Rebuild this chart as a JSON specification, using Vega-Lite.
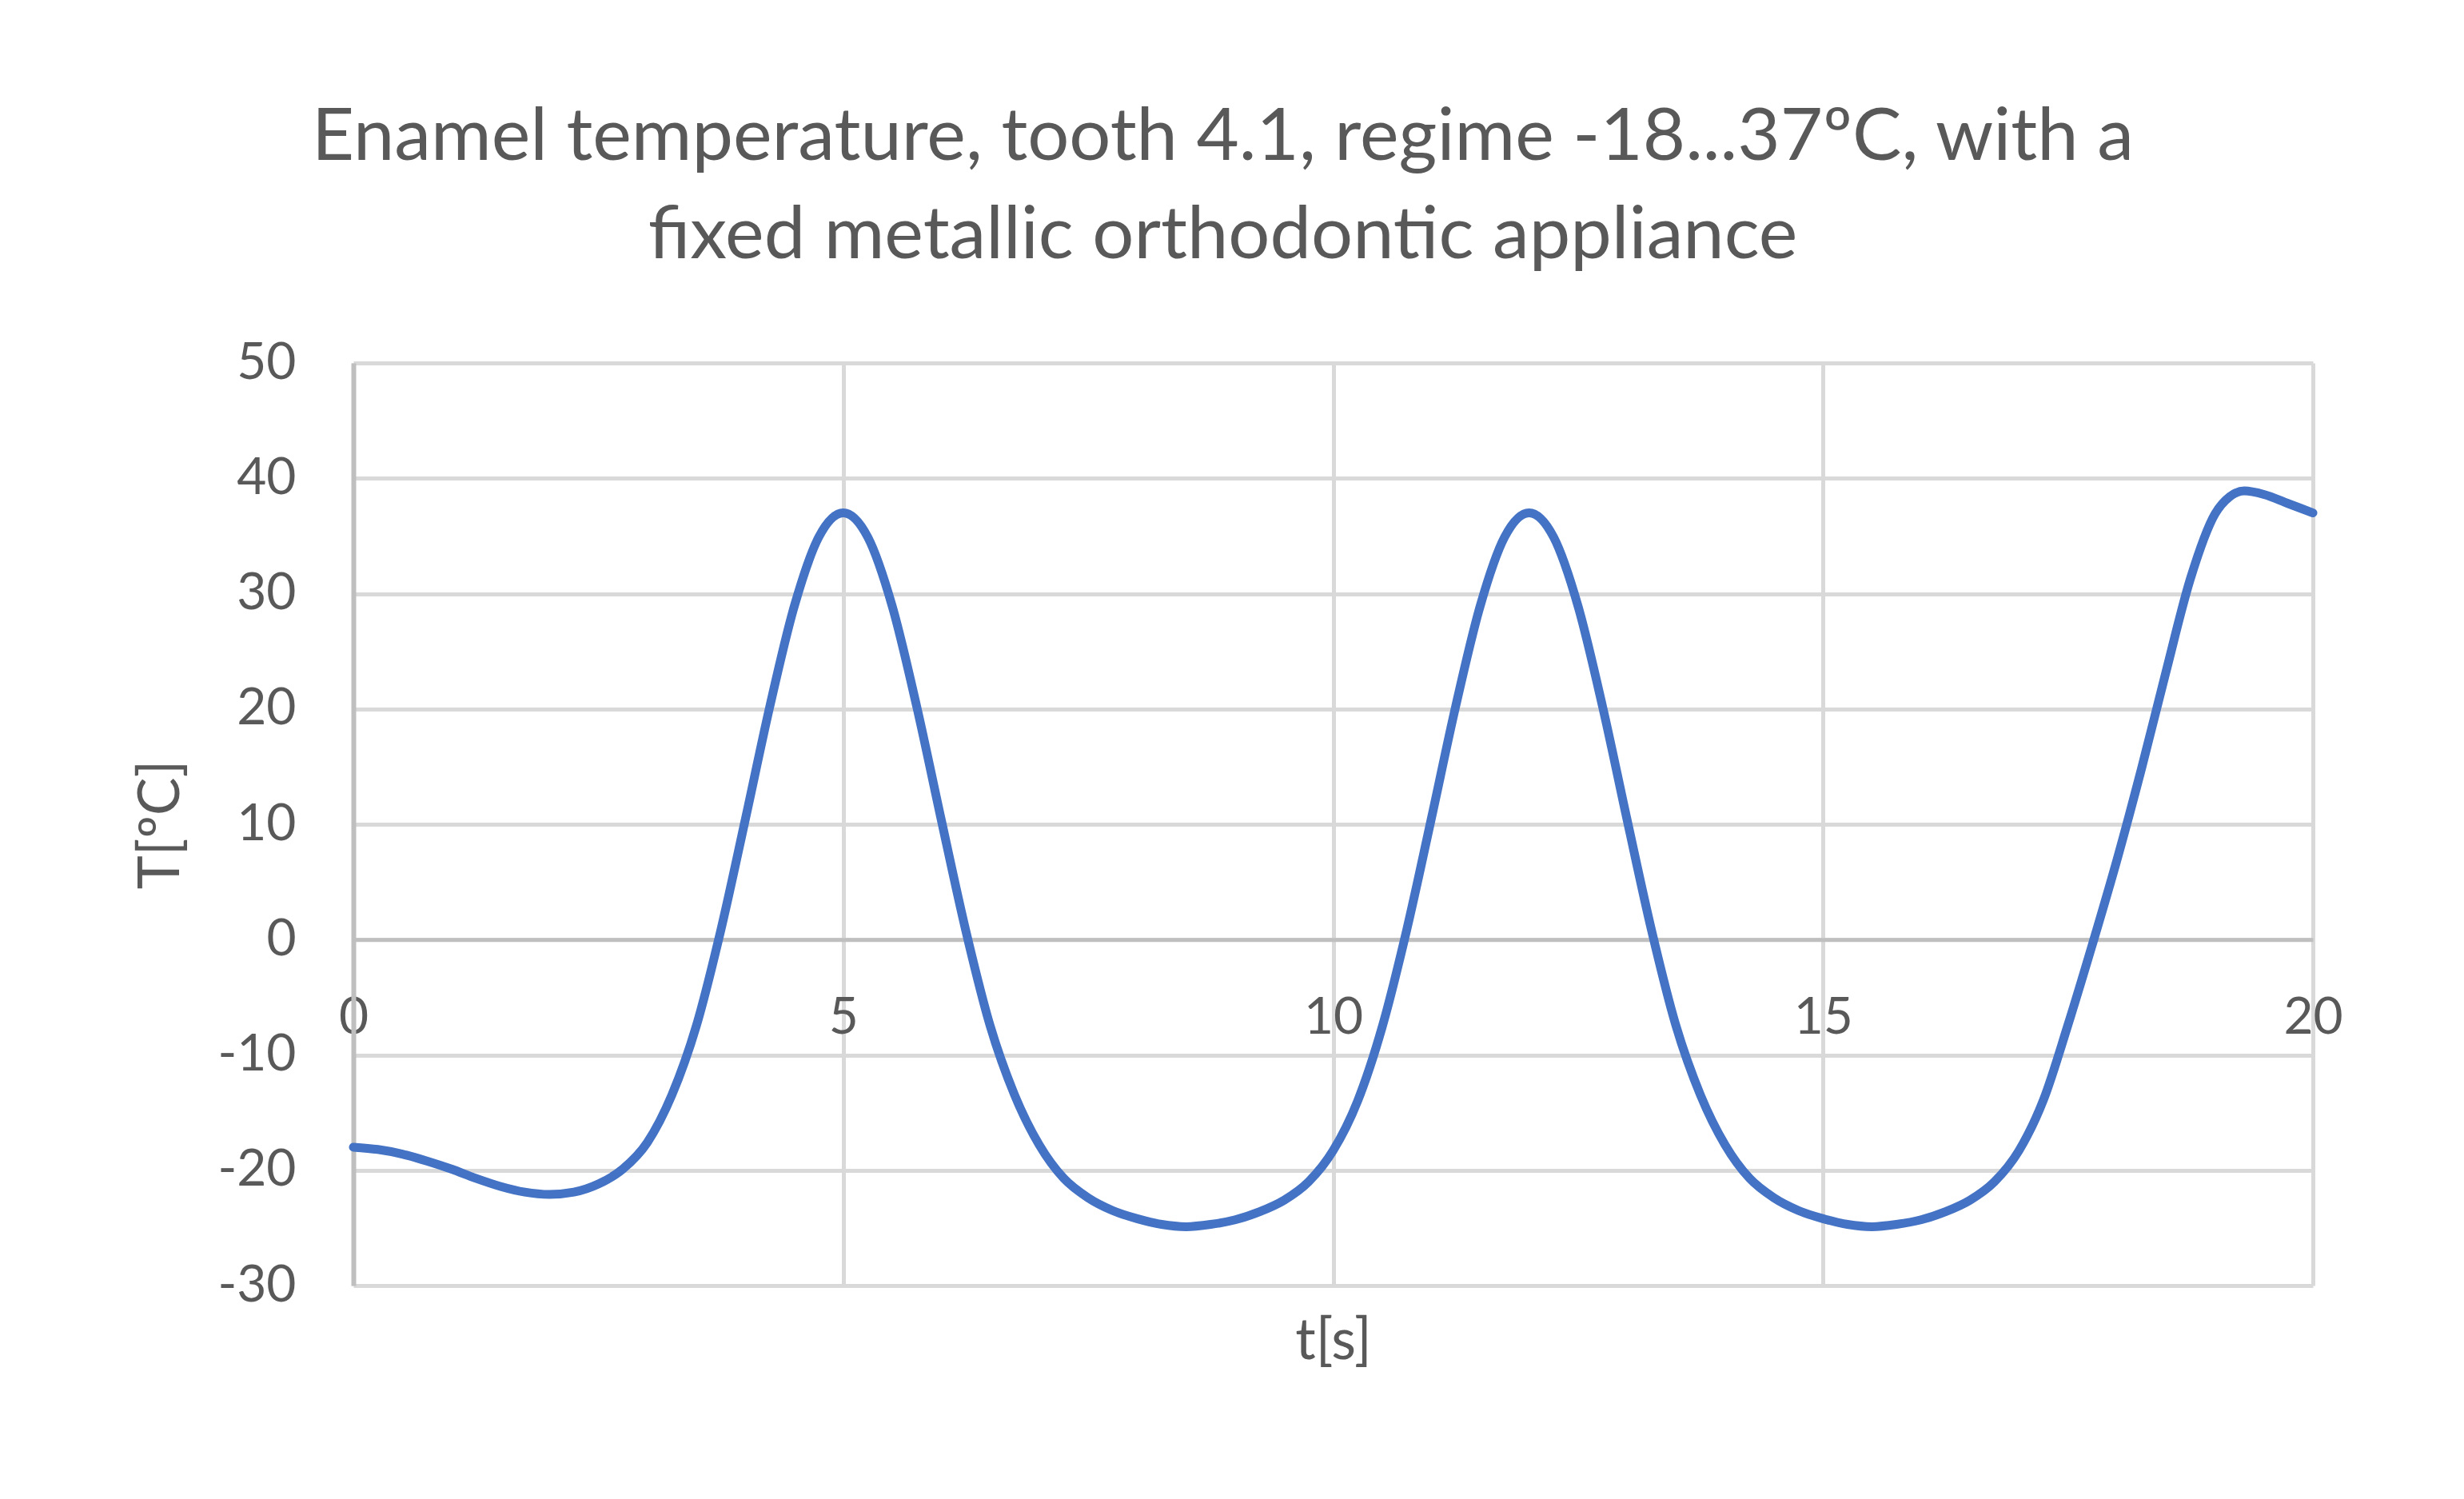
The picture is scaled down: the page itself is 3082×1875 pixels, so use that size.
{
  "$schema": "https://vega.github.io/schema/vega-lite/v6.json",
  "width": 2451,
  "height": 1154,
  "autosize": {"type": "none"},
  "padding": {"left": 442, "top": 454, "right": 189, "bottom": 267},
  "background": "white",
  "title": {
    "text": ["Enamel temperature, tooth 4.1, regime -18...37ºC, with a", "fixed metallic orthodontic appliance"],
    "anchor": "middle",
    "frame": "group",
    "dx": -138,
    "font": "Lato",
    "fontSize": 92,
    "fontWeight": "normal",
    "color": "#595959",
    "lineHeight": 123,
    "offset": 80
  },
  "config": {
    "view": {"stroke": null},
    "axis": {"labelFont": "Lato", "titleFont": "Lato", "labelColor": "#595959", "titleColor": "#595959", "titleFontWeight": "normal"}
  },
  "data": {
    "values": [
      {"t": 0, "T": -18.0}, {"t": 0.25, "T": -18.2}, {"t": 0.5, "T": -18.6}, {"t": 0.75, "T": -19.2},
      {"t": 1.0, "T": -19.9}, {"t": 1.25, "T": -20.7}, {"t": 1.5, "T": -21.4}, {"t": 1.75, "T": -21.9},
      {"t": 2.0, "T": -22.1}, {"t": 2.25, "T": -21.9}, {"t": 2.5, "T": -21.2}, {"t": 2.75, "T": -19.9},
      {"t": 3.0, "T": -17.6}, {"t": 3.25, "T": -13.5}, {"t": 3.5, "T": -7.5}, {"t": 3.75, "T": 0.8},
      {"t": 4.0, "T": 10.4}, {"t": 4.25, "T": 20.2}, {"t": 4.5, "T": 28.9}, {"t": 4.75, "T": 34.9},
      {"t": 5.0, "T": 37.0}, {"t": 5.25, "T": 34.9}, {"t": 5.5, "T": 28.9}, {"t": 5.75, "T": 20.2},
      {"t": 6.0, "T": 10.4}, {"t": 6.25, "T": 0.8}, {"t": 6.5, "T": -7.5}, {"t": 6.75, "T": -13.5},
      {"t": 7.0, "T": -17.8}, {"t": 7.25, "T": -20.7}, {"t": 7.5, "T": -22.4}, {"t": 7.75, "T": -23.5},
      {"t": 8.0, "T": -24.2}, {"t": 8.25, "T": -24.7}, {"t": 8.5, "T": -24.9}, {"t": 8.75, "T": -24.7},
      {"t": 9.0, "T": -24.3}, {"t": 9.25, "T": -23.6}, {"t": 9.5, "T": -22.6}, {"t": 9.75, "T": -21.0},
      {"t": 10.0, "T": -18.3}, {"t": 10.25, "T": -14.0}, {"t": 10.5, "T": -7.6}, {"t": 10.75, "T": 0.8},
      {"t": 11.0, "T": 10.4}, {"t": 11.25, "T": 20.2}, {"t": 11.5, "T": 28.9}, {"t": 11.75, "T": 34.9},
      {"t": 12.0, "T": 37.0}, {"t": 12.25, "T": 34.9}, {"t": 12.5, "T": 28.9}, {"t": 12.75, "T": 20.2},
      {"t": 13.0, "T": 10.4}, {"t": 13.25, "T": 0.8}, {"t": 13.5, "T": -7.5}, {"t": 13.75, "T": -13.5},
      {"t": 14.0, "T": -17.8}, {"t": 14.25, "T": -20.7}, {"t": 14.5, "T": -22.4}, {"t": 14.75, "T": -23.5},
      {"t": 15.0, "T": -24.2}, {"t": 15.25, "T": -24.7}, {"t": 15.5, "T": -24.9}, {"t": 15.75, "T": -24.7},
      {"t": 16.0, "T": -24.3}, {"t": 16.25, "T": -23.6}, {"t": 16.5, "T": -22.6}, {"t": 16.75, "T": -21.0},
      {"t": 17.0, "T": -18.3}, {"t": 17.25, "T": -13.9}, {"t": 17.5, "T": -7.4}, {"t": 17.75, "T": -0.4},
      {"t": 18.0, "T": 6.9}, {"t": 18.25, "T": 14.8}, {"t": 18.5, "T": 23.2}, {"t": 18.75, "T": 31.3},
      {"t": 19.0, "T": 36.9}, {"t": 19.15, "T": 38.4}, {"t": 19.3, "T": 38.9}, {"t": 19.5, "T": 38.6},
      {"t": 19.75, "T": 37.8}, {"t": 20.0, "T": 37.0}
    ]
  },
  "mark": {"type": "line", "color": "#4472C4", "strokeWidth": 11, "interpolate": "monotone", "strokeCap": "round", "strokeJoin": "round", "clip": false},
  "encoding": {
    "x": {
      "field": "t", "type": "quantitative",
      "scale": {"domain": [0, 20], "nice": false, "zero": false},
      "axis": {
        "values": [0, 5, 10, 15, 20],
        "title": "t[s]",
        "titleFontSize": 71,
        "titleY": 503,
        "titleBaseline": "middle",
        "titleAnchor": "middle",
        "offset": -432.75,
        "grid": true, "gridColor": "#d9d9d9", "gridWidth": 5,
        "domain": true, "domainColor": "#bfbfbf", "domainWidth": 5,
        "ticks": false, "tickSize": 0,
        "labelFontSize": 64, "labelPadding": 66, "labelBaseline": "top",
        "labelOverlap": false, "labelFlush": false
      }
    },
    "y": {
      "field": "T", "type": "quantitative",
      "scale": {"domain": [-30, 50], "nice": false, "zero": false},
      "axis": {
        "values": [-30, -20, -10, 0, 10, 20, 30, 40, 50],
        "labelExpr": "'' + datum.value",
        "title": "T[ºC]",
        "titleFontSize": 71,
        "titleX": -240,
        "titleY": 577,
        "titleAngle": 270,
        "titleBaseline": "middle",
        "titleAlign": "center",
        "grid": true, "gridColor": "#d9d9d9", "gridWidth": 5,
        "domain": true, "domainColor": "#bfbfbf", "domainWidth": 6,
        "ticks": false, "tickSize": 0,
        "labelFontSize": 64, "labelPadding": 72, "labelBaseline": "middle",
        "labelOverlap": false, "labelFlush": false
      }
    }
  }
}
